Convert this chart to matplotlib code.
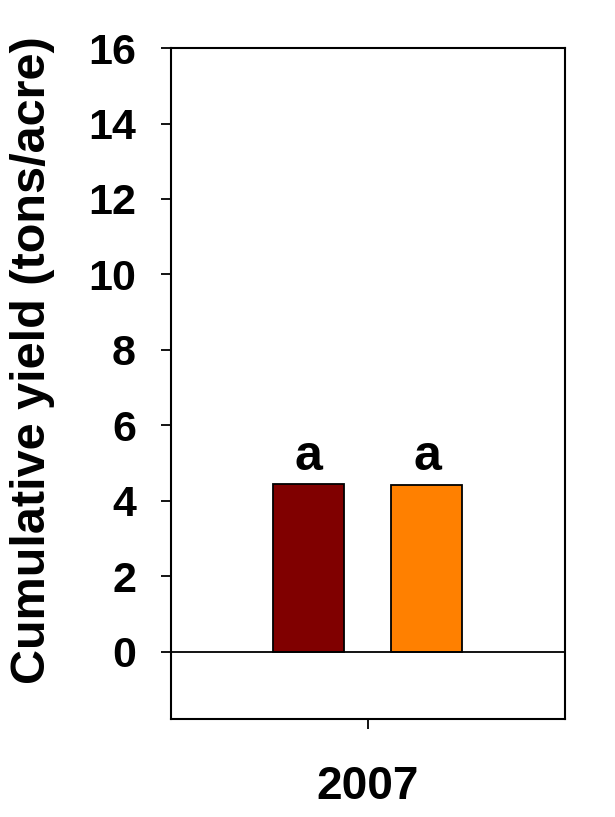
import numpy as np
import matplotlib.pyplot as plt

# Cumulative yield per treatment, 2007 season
years = ['2007']
treatments = ['Treatment 1', 'Treatment 2']
yields = [4.44, 4.43]
letters = ['a', 'a']
colors = ['#800000', '#FF8000']
yticks = [0, 2, 4, 6, 8, 10, 12, 14, 16]

plt.rcParams['font.family'] = ['Liberation Sans', 'DejaVu Sans']
plt.rcParams['font.weight'] = 'bold'

fig = plt.figure(figsize=(6.15, 8.17), dpi=100)
ax = fig.add_axes([0.2776, 0.120, 0.641, 0.8212])

offsets = np.array([-0.3, 0.3])
bars = ax.bar(offsets, yields, width=0.36, color=colors,
              edgecolor='black', linewidth=1.3, zorder=3)

# Significance letters above each bar
for x, y, lab in zip(offsets, yields, letters):
    ax.annotate(lab, (x, y), xytext=(0, 3), textcoords='offset points',
                ha='center', va='bottom', fontsize=36, fontweight='bold')

# Zero line across the plot
ax.axhline(0, color='black', linewidth=1.3, zorder=4)

ax.set_xlim(-1, 1)
ax.set_ylim(-1.78, 16)
ax.set_yticks(yticks)
ax.set_yticklabels([str(t) for t in yticks])
ax.set_xticks([0])
ax.set_xticklabels(years)

ax.tick_params(axis='y', direction='out', length=7, width=1.3,
               pad=18, labelsize=31)
ax.tick_params(axis='x', direction='out', length=7, width=1.3,
               pad=26, labelsize=33)

for sp in ax.spines.values():
    sp.set_linewidth(1.5)

ax.set_ylabel('Cumulative yield (tons/acre)', fontsize=35, fontweight='bold')
ax.yaxis.set_label_coords(-0.294, 0.535)

fig.savefig('out.png', dpi=100)
